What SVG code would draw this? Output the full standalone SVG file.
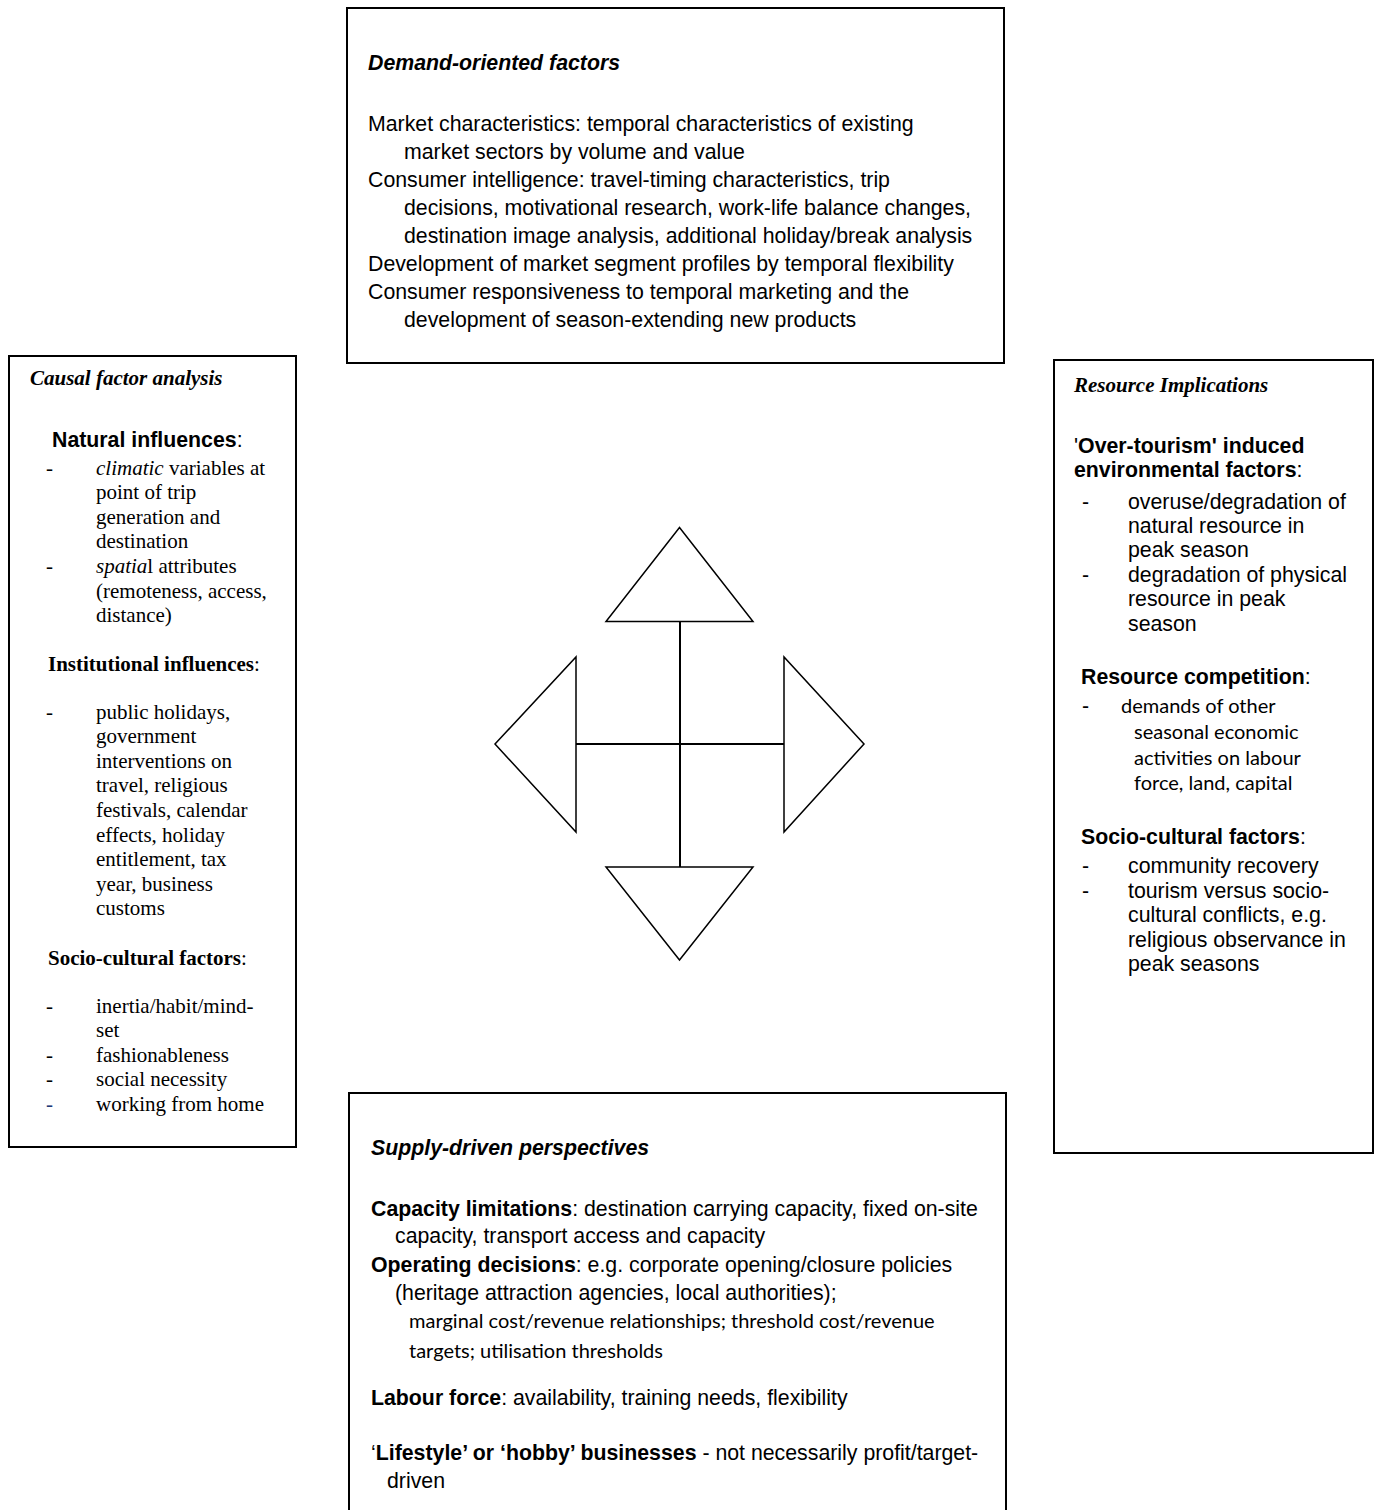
<svg xmlns="http://www.w3.org/2000/svg" width="1381" height="1510" viewBox="0 0 1381 1510">
<style>
.box{fill:#fff;stroke:#000;stroke-width:2}
.tri{fill:#fff;stroke:#000;stroke-width:1.5;stroke-linejoin:miter}
.ln{stroke:#000;stroke-width:2;fill:none}
.sans{font-family:"Liberation Sans",Arial,sans-serif;font-size:21.3px;fill:#000}
.serif{font-family:"Liberation Serif","Times New Roman",serif;font-size:21px;fill:#000}
.cal{font-family:Lato,"Open Sans",sans-serif;font-size:20px;fill:#000}
.b{font-weight:bold}
.i{font-style:italic}
.n{font-weight:normal}
</style>

<g id="demand">
<rect class="box" x="347" y="8" width="657" height="355"/>
<text class="sans b i" x="368" y="69.5">Demand-oriented factors</text>
<text class="sans" x="368" y="131">Market characteristics: temporal characteristics of existing</text>
<text class="sans" x="404" y="159">market sectors by volume and value</text>
<text class="sans" x="368" y="187">Consumer intelligence: travel-timing characteristics, trip</text>
<text class="sans" x="404" y="215">decisions, motivational research, work-life balance changes,</text>
<text class="sans" x="404" y="243">destination image analysis, additional holiday/break analysis</text>
<text class="sans" x="368" y="271">Development of market segment profiles by temporal flexibility</text>
<text class="sans" x="368" y="299">Consumer responsiveness to temporal marketing and the</text>
<text class="sans" x="404" y="327">development of season-extending new products</text>
</g>

<g id="causal">
<rect class="box" x="9" y="356" width="287" height="791"/>
<text class="serif b i" x="30" y="385">Causal factor analysis</text>
<text class="sans b" x="52" y="447">Natural influences<tspan class="n">:</tspan></text>
<text class="serif" x="46" y="474.5">-</text>
<text class="serif" x="96" y="474.5"><tspan class="i">climatic</tspan> variables at</text>
<text class="serif" x="96" y="499">point of trip</text>
<text class="serif" x="96" y="523.7">generation and</text>
<text class="serif" x="96" y="548.3">destination</text>
<text class="serif" x="46" y="573">-</text>
<text class="serif" x="96" y="573"><tspan class="i">spatia</tspan>l attributes</text>
<text class="serif" x="96" y="597.5">(remoteness, access,</text>
<text class="serif" x="96" y="622">distance)</text>
<text class="serif b" x="48" y="671">Institutional influences<tspan class="n">:</tspan></text>
<text class="serif" x="46" y="718.5">-</text>
<text class="serif" x="96" y="718.5">public holidays,</text>
<text class="serif" x="96" y="743">government</text>
<text class="serif" x="96" y="767.7">interventions on</text>
<text class="serif" x="96" y="792.3">travel, religious</text>
<text class="serif" x="96" y="817">festivals, calendar</text>
<text class="serif" x="96" y="841.5">effects, holiday</text>
<text class="serif" x="96" y="866">entitlement, tax</text>
<text class="serif" x="96" y="890.7">year, business</text>
<text class="serif" x="96" y="915.3">customs</text>
<text class="serif b" x="48" y="964.5">Socio-cultural factors<tspan class="n">:</tspan></text>
<text class="serif" x="46" y="1012.5">-</text>
<text class="serif" x="96" y="1012.5">inertia/habit/mind-</text>
<text class="serif" x="96" y="1037">set</text>
<text class="serif" x="46" y="1061.6">-</text>
<text class="serif" x="96" y="1061.6">fashionableness</text>
<text class="serif" x="46" y="1086">-</text>
<text class="serif" x="96" y="1086">social necessity</text>
<text class="serif" x="46" y="1110.7" style="fill:#1f3a78">-</text>
<text class="serif" x="96" y="1110.7">working from home</text>
</g>

<g id="resource">
<rect class="box" x="1054" y="360" width="319" height="793"/>
<text class="serif b i" x="1074" y="391.5">Resource Implications</text>
<text class="sans b" x="1074" y="452.5"><tspan class="n">'</tspan>Over-tourism' induced</text>
<text class="sans b" x="1074" y="476.5">environmental factors<tspan class="n">:</tspan></text>
<text class="sans" x="1082" y="508.5">-</text>
<text class="sans" x="1128" y="508.5">overuse/degradation of</text>
<text class="sans" x="1128" y="532.5">natural resource in</text>
<text class="sans" x="1128" y="556.5">peak season</text>
<text class="sans" x="1082" y="581.5">-</text>
<text class="sans" x="1128" y="581.5">degradation of physical</text>
<text class="sans" x="1128" y="606">resource in peak</text>
<text class="sans" x="1128" y="630.5">season</text>
<text class="sans b" x="1081" y="684">Resource competition<tspan class="n">:</tspan></text>
<text class="sans" x="1082" y="712.5">-</text>
<text class="cal" x="1121" y="712.5">demands of other</text>
<text class="cal" x="1134" y="738.5">seasonal economic</text>
<text class="cal" x="1134" y="764.5">activities on labour</text>
<text class="cal" x="1134" y="790">force, land, capital</text>
<text class="sans b" x="1081" y="844">Socio-cultural factors<tspan class="n">:</tspan></text>
<text class="sans" x="1082" y="873">-</text>
<text class="sans" x="1128" y="873">community recovery</text>
<text class="sans" x="1082" y="898">-</text>
<text class="sans" x="1128" y="898">tourism versus socio-</text>
<text class="sans" x="1128" y="922">cultural conflicts, e.g.</text>
<text class="sans" x="1128" y="946.5">religious observance in</text>
<text class="sans" x="1128" y="971">peak seasons</text>
</g>

<g id="supply">
<rect class="box" x="349" y="1093" width="657" height="430"/>
<text class="sans b i" x="371" y="1154.5">Supply-driven perspectives</text>
<text class="sans" x="371" y="1215.5"><tspan class="b">Capacity limitations</tspan>: destination carrying capacity, fixed on-site</text>
<text class="sans" x="395" y="1243">capacity, transport access and capacity</text>
<text class="sans" x="371" y="1271.5"><tspan class="b">Operating decisions</tspan>: e.g. corporate opening/closure policies</text>
<text class="sans" x="395" y="1300">(heritage attraction agencies, local authorities);</text>
<text class="cal" x="409" y="1328">marginal cost/revenue relationships; threshold cost/revenue</text>
<text class="cal" x="409" y="1358">targets; utilisation thresholds</text>
<text class="sans" x="371" y="1404.5"><tspan class="b">Labour force</tspan>: availability, training needs, flexibility</text>
<text class="sans" x="371" y="1459.5">‘<tspan class="b">Lifestyle’ or ‘hobby’ businesses</tspan> - not necessarily profit/target-</text>
<text class="sans" x="387" y="1488">driven</text>
</g>

<g id="connectors">
<line class="ln" x1="680" y1="622" x2="680" y2="867"/>
<line class="ln" x1="576" y1="744" x2="784" y2="744"/>
<polygon class="tri" points="679.5,527.5 753,621.5 606,621.5"/>
<polygon class="tri" points="606,867 753,867 679.5,960"/>
<polygon class="tri" points="576,657 576,832 495,744"/>
<polygon class="tri" points="784,657 784,832 864,744"/>
</g>
</svg>
